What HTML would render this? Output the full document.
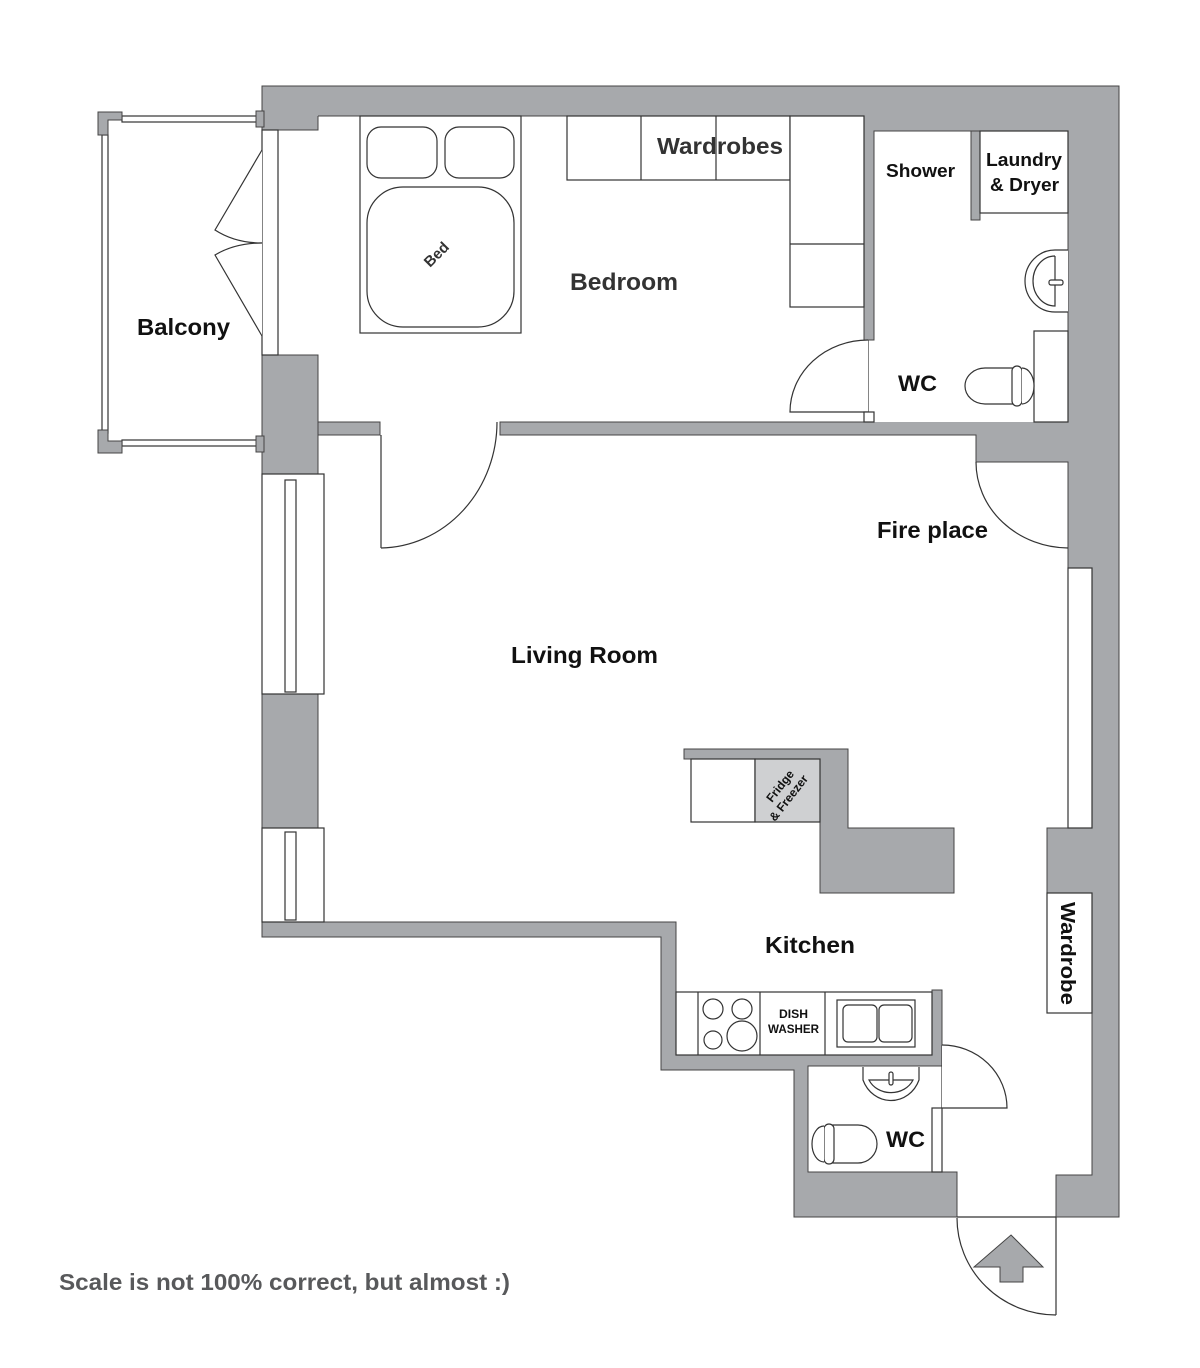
<!DOCTYPE html>
<html><head><meta charset="utf-8"><style>
html,body{margin:0;padding:0;background:#fff;}
svg{display:block;}
text{font-family:"Liberation Sans",sans-serif;font-weight:bold;}
</style></head><body>
<svg width="1200" height="1368" viewBox="0 0 1200 1368" xmlns="http://www.w3.org/2000/svg">
<g fill="#a7a9ac" stroke="none">
<rect x="262" y="86" width="857" height="30"/>
<rect x="262" y="116" width="56" height="14"/>
<rect x="864" y="116" width="204" height="15"/>
<rect x="1068" y="86" width="51" height="482"/>
<rect x="1092" y="568" width="27" height="607"/>
<rect x="1056" y="1175" width="63" height="42"/>
<rect x="1047" y="828" width="45" height="65"/>
<rect x="864" y="116" width="10" height="224"/>
<rect x="500" y="422" width="568" height="13"/>
<rect x="976" y="435" width="92" height="27"/>
</g>
<g fill="none" stroke="#444" stroke-width="1">
<polyline points="262,130 262,86 1119,86 1119,1217 1056,1217 1056,1175 1092,1175 1092,1013"/>
<polyline points="1047,893 1047,828 1068,828 1068,462 976,462 976,435 500,435 500,422 864,422"/>
<polyline points="318,116 318,130 262,130"/>
<line x1="318" y1="116" x2="864" y2="116"/>
<polyline points="864,116 864,340 874,340 874,131 1068,131 1068,422"/>
</g>
<g fill="#a7a9ac" stroke="#444" stroke-width="1">
<rect x="318" y="422" width="62" height="13"/>
<rect x="262" y="355" width="56" height="119"/>
<rect x="262" y="694" width="56" height="134"/>
<rect x="971" y="131" width="9" height="89"/>
<polygon points="262,922 676,922 676,1055 932,1055 932,990 942,990 942,1066 808,1066 808,1172 957,1172 957,1217 794,1217 794,1070 661,1070 661,937 262,937"/>
<polygon points="684,749 848,749 848,828 954,828 954,893 820,893 820,759 684,759"/>
</g>
<g fill="#fff" stroke="#333" stroke-width="1.2">
<rect x="1068" y="568" width="24" height="260"/>
<rect x="1047" y="893" width="45" height="120"/>
<rect x="262" y="474" width="62" height="220"/>
<rect x="285" y="480" width="11" height="212"/>
<rect x="262" y="828" width="62" height="94"/>
<rect x="285" y="832" width="11" height="88"/>
<rect x="262" y="130" width="16" height="225"/>
<rect x="360" y="116" width="161" height="217"/>
<rect x="367" y="127" width="70" height="51" rx="14"/>
<rect x="445" y="127" width="69" height="51" rx="14"/>
<rect x="367" y="187" width="147" height="140" rx="36"/>
<rect x="567" y="116" width="223" height="64"/>
<line x1="641" y1="116" x2="641" y2="180"/>
<line x1="716" y1="116" x2="716" y2="180"/>
<rect x="790" y="116" width="74" height="191"/>
<line x1="790" y1="244" x2="864" y2="244"/>
<rect x="980" y="131" width="88" height="82"/>
<path d="M1068,250 L1055,250 A30,31 0 0 0 1055,312 L1068,312"/>
<path d="M1055,256 A22,25 0 0 0 1055,306 L1055,256"/>
<rect x="1049" y="280" width="14" height="5" rx="2"/>
<rect x="1034" y="331" width="34" height="91"/>
<path d="M1016,368 L985,368 A20,18 0 0 0 985,404 L1016,404 Z"/>
<rect x="1012" y="366" width="10" height="40" rx="5"/>
<path d="M1022,368 A12,18 0 0 1 1022,404"/>
<line x1="868" y1="340" x2="868" y2="412"/>
<path d="M868,340 A78,72 0 0 0 790,412 L868,412"/>
<rect x="864" y="412" width="10" height="10"/>
<line x1="381" y1="435" x2="381" y2="548"/>
<path d="M497,422 A118,126 0 0 1 381,548"/>
<path d="M976,462 A93,86 0 0 0 1068,548"/>
<rect x="691" y="759" width="64" height="63"/>
<rect x="755" y="759" width="65" height="63" fill="#cfd0d2"/>
<rect x="676" y="992" width="256" height="63"/>
<line x1="698" y1="992" x2="698" y2="1055"/>
<line x1="760" y1="992" x2="760" y2="1055"/>
<line x1="825" y1="992" x2="825" y2="1055"/>
<circle cx="713" cy="1009" r="10"/>
<circle cx="742" cy="1009" r="10"/>
<circle cx="713" cy="1040" r="9"/>
<circle cx="742" cy="1036" r="15"/>
<rect x="837" y="1000" width="78" height="47"/>
<rect x="843" y="1005" width="34" height="37" rx="5"/>
<rect x="879" y="1005" width="33" height="37" rx="5"/>
<path d="M863,1067 L863,1080 A30,32 0 0 0 919,1080 L919,1067"/>
<path d="M869,1080 A24,21 0 0 0 913,1080 Z"/>
<rect x="889" y="1072" width="4" height="13" rx="2"/>
<path d="M833,1125 L858,1125 A19,19 0 0 1 858,1163 L833,1163 Z"/>
<rect x="824" y="1124" width="10" height="40" rx="5"/>
<path d="M824,1126 A12,18 0 0 0 824,1162"/>
<rect x="932" y="1108" width="10" height="64"/>
<line x1="942" y1="1045" x2="942" y2="1108"/>
<path d="M942,1045 A65,63 0 0 1 1007,1108 L942,1108"/>
<line x1="1056" y1="1217" x2="1056" y2="1315"/>
<path d="M957,1218 A99,97 0 0 0 1056,1315"/>
<line x1="957" y1="1217" x2="1056" y2="1217"/>
</g>
<polygon points="1011,1235 1043,1267 1023,1267 1023,1282 1000,1282 1000,1267 974,1267" fill="#a7a9ac" stroke="#444" stroke-width="1"/>
<g fill="#fff" stroke="#333" stroke-width="1.2">
<rect x="122" y="116" width="136" height="6"/>
<rect x="122" y="440" width="136" height="6"/>
<rect x="102" y="135" width="6" height="298"/>
<path d="M262,150 L215,230 Q235,243 262,243"/>
<path d="M262,243 Q235,243 215,255 L262,336"/>
</g>
<g fill="#a7a9ac" stroke="#444" stroke-width="1">
<polygon points="98,112 122,112 122,120 108,120 108,135 98,135"/>
<polygon points="98,430 108,430 108,441 122,441 122,453 98,453"/>
<rect x="256" y="111" width="8" height="16"/>
<rect x="256" y="436" width="8" height="16"/>
</g>
<g fill="#111">
<text x="137" y="335" font-size="23" textLength="93" lengthAdjust="spacingAndGlyphs">Balcony</text>
<text x="570" y="290" font-size="24" fill="#333" textLength="108" lengthAdjust="spacingAndGlyphs">Bedroom</text>
<text x="657" y="154" font-size="23" fill="#333" textLength="126" lengthAdjust="spacingAndGlyphs">Wardrobes</text>
<text x="886" y="177" font-size="18" textLength="69" lengthAdjust="spacingAndGlyphs">Shower</text>
<text x="986" y="166" font-size="18" textLength="76" lengthAdjust="spacingAndGlyphs">Laundry</text>
<text x="990" y="191" font-size="18" textLength="69" lengthAdjust="spacingAndGlyphs">&amp; Dryer</text>
<text x="898" y="391" font-size="22" textLength="39" lengthAdjust="spacingAndGlyphs">WC</text>
<text x="877" y="538" font-size="23" textLength="111" lengthAdjust="spacingAndGlyphs">Fire place</text>
<text x="511" y="663" font-size="23" textLength="147" lengthAdjust="spacingAndGlyphs">Living Room</text>
<text x="765" y="953" font-size="23" textLength="90" lengthAdjust="spacingAndGlyphs">Kitchen</text>
<text x="886" y="1147" font-size="22" textLength="39" lengthAdjust="spacingAndGlyphs">WC</text>
<text x="779" y="1018" font-size="11.5" textLength="29" lengthAdjust="spacingAndGlyphs">DISH</text>
<text x="768" y="1033" font-size="11.5" textLength="51" lengthAdjust="spacingAndGlyphs">WASHER</text>
<text transform="translate(430,268) rotate(-45)" font-size="15" fill="#333">Bed</text>
<text transform="translate(772,803) rotate(-52)" font-size="12">Fridge</text>
<text transform="translate(775,822) rotate(-52)" font-size="12">&amp; Freezer</text>
<text transform="translate(1061,902) rotate(90)" font-size="20" textLength="103" lengthAdjust="spacingAndGlyphs">Wardrobe</text>
<text x="59" y="1290" font-size="23" fill="#58595b" textLength="451" lengthAdjust="spacingAndGlyphs">Scale is not 100% correct, but almost :)</text>
</g>
</svg>
</body></html>
